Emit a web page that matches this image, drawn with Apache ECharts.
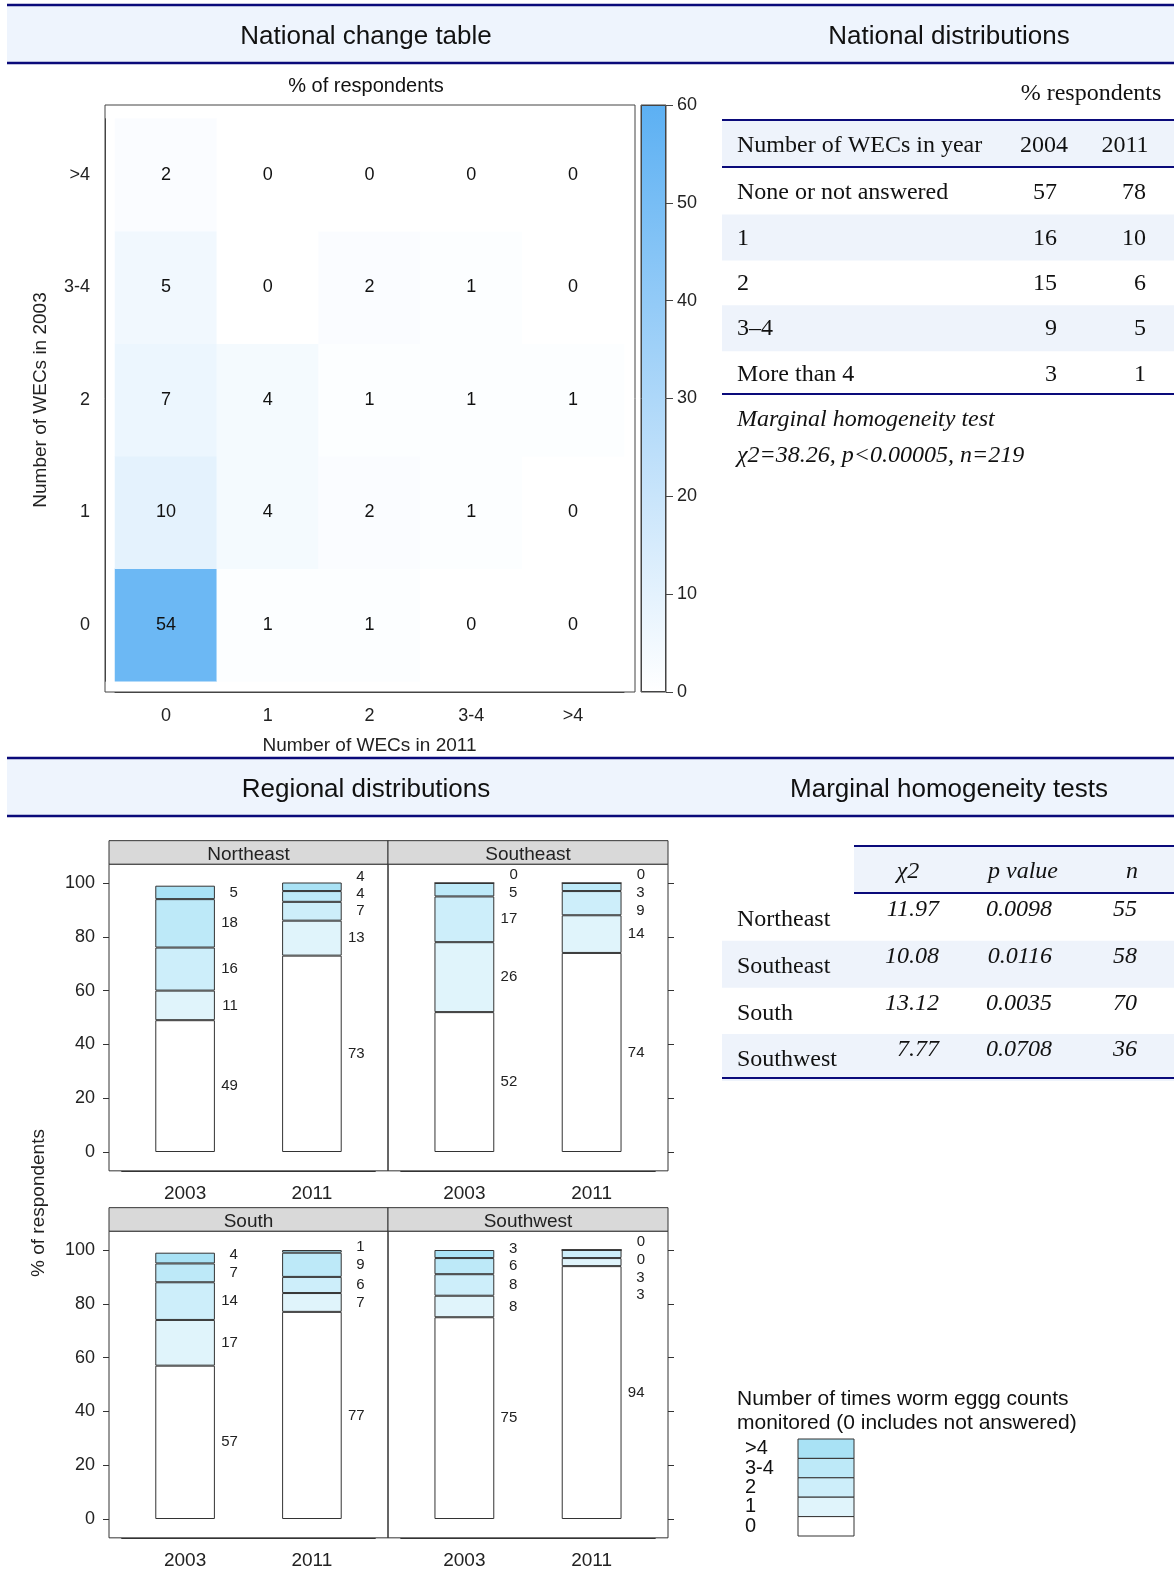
<!DOCTYPE html>
<html><head><meta charset="utf-8">
<script src="https://cdn.jsdelivr.net/npm/echarts@6/dist/echarts.min.js"></script>
<style>html,body{margin:0;padding:0;background:#fff}#c{width:1174px;height:1588px}</style>
</head><body><div id="c"></div>
<script>
// ================= DATA =================
const wecCats = ['0', '1', '2', '3-4', '>4'];
// national change table (% of respondents); rows = 2003 category, columns = 2011 category
const change2003is0   = [54, 1, 1, 0, 0];
const change2003is1   = [10, 4, 2, 1, 0];
const change2003is2   = [7, 4, 1, 1, 1];
const change2003is3_4 = [5, 0, 2, 1, 0];
const change2003isGt4 = [2, 0, 0, 0, 0];
const colorbarMax = 60;
const colorbarStep = 10;

const natCategories = ['None or not answered', '1', '2', '3–4', 'More than 4'];
const natYears = ['2004', '2011'];
const nat2004 = [57, 16, 15, 9, 3];
const nat2011 = [78, 10, 6, 5, 1];
const natTestLines = ['Marginal homogeneity test', 'χ2=38.26, p<0.00005, n=219'];

const regions = ['Northeast', 'Southeast', 'South', 'Southwest'];
const barYears = ['2003', '2011'];
// values per WEC category 0, 1, 2, 3-4, >4
const northeast2003 = [49, 11, 16, 18, 5];
const northeast2011 = [73, 13, 7, 4, 4];
const southeast2003 = [52, 26, 17, 5, 0];
const southeast2011 = [74, 14, 9, 3, 0];
const south2003 = [57, 17, 14, 7, 4];
const south2011 = [77, 7, 6, 9, 1];
const southwest2003 = [75, 8, 8, 6, 3];
const southwest2011 = [94, 3, 3, 0, 0];
const pctTicks = [0, 100, 20];

const testHeaders = ['χ2', 'p value', 'n'];
const testChi2 = ['11.97', '10.08', '13.12', '7.77'];
const testP = ['0.0098', '0.0116', '0.0035', '0.0708'];
const testN = ['55', '58', '70', '36'];

const legendTitle = ['Number of times worm eggg counts', 'monitored (0 includes not answered)'];

// ================= STYLE / LAYOUT =================
const SANS = '"Liberation Sans", Arial, sans-serif';
const SERIF = '"Liberation Serif", "Times New Roman", serif';
const NAVY = '#0a0a7a';
const HEAD_BG = '#eef4fd';
const ROW_BG = '#eef3fb';
const AX = '#444';
const catColors = ['#ffffff', '#e0f4fb', '#cdeefa', '#bde9f8', '#a9e2f5'];
const heatMaxColor = '#5cb0f3';

const grids = [], xAxes = [], yAxes = [], series = [], graphics = [];
function addGrid(g) { grids.push(g); return grids.length - 1; }
function hiddenAxes(gi) {
  xAxes.push({ gridIndex: gi, type: 'value', show: false, min: 0, max: 1 });
  yAxes.push({ gridIndex: gi, type: 'value', show: false, min: 0, max: 1 });
}

// ---------- heatmap ----------
const hmFrame = addGrid({ left: 105, top: 105, width: 530, height: 587, show: true, borderColor: AX, borderWidth: 1, backgroundColor: 'transparent' });
hiddenAxes(hmFrame);
const hmTop = 118.75, hmH = 562.5;
const hmGrid = addGrid({ left: 115, top: hmTop, width: 509, height: hmH });
const hmX = xAxes.length;
xAxes.push({
  gridIndex: hmGrid, type: 'category', data: wecCats, offset: 692 - (hmTop + hmH),
  axisLine: { show: true, onZero: false, lineStyle: { color: AX } },
  axisTick: { alignWithLabel: true, length: 7, lineStyle: { color: AX } },
  axisLabel: { fontSize: 18, fontFamily: SANS, color: '#222', margin: 15, interval: 0 },
  name: 'Number of WECs in 2011', nameLocation: 'middle', nameGap: 44,
  nameTextStyle: { fontSize: 19, fontFamily: SANS, color: '#222' }
});
const hmY = yAxes.length;
yAxes.push({
  gridIndex: hmGrid, type: 'category', data: wecCats, offset: 10,
  axisLine: { show: true, onZero: false, lineStyle: { color: AX } },
  axisTick: { alignWithLabel: true, length: 7, lineStyle: { color: AX } },
  axisLabel: { fontSize: 18, fontFamily: SANS, color: '#222', margin: 15, interval: 0 },
  name: 'Number of WECs in 2003', nameLocation: 'middle', nameGap: 55,
  nameTextStyle: { fontSize: 19, fontFamily: SANS, color: '#222' }
});
const changeRows = [change2003is0, change2003is1, change2003is2, change2003is3_4, change2003isGt4];
const hmData = [];
changeRows.forEach((row, r) => row.forEach((v, c) => hmData.push([c, r, v])));
const hmSeriesIndex = series.length;
series.push({
  type: 'heatmap', xAxisIndex: hmX, yAxisIndex: hmY, data: hmData,
  label: { show: true, fontSize: 18, fontFamily: SANS, color: '#111', formatter: p => p.value[2] },
  emphasis: { disabled: true }
});

// ---------- colorbar ----------
const cbGrid = addGrid({ left: 641, top: 105, width: 25, height: 587, show: true, borderColor: AX, borderWidth: 1, backgroundColor: 'transparent' });
const cbX = xAxes.length;
xAxes.push({ gridIndex: cbGrid, type: 'category', data: ['scale'], show: false });
const cbY = yAxes.length;
yAxes.push({
  gridIndex: cbGrid, type: 'value', position: 'right', min: 0, max: colorbarMax, interval: colorbarStep,
  axisLine: { show: false }, splitLine: { show: false },
  axisTick: { show: true, length: 7, lineStyle: { color: AX } },
  axisLabel: { fontSize: 18, fontFamily: SANS, color: '#222', margin: 11 }
});
series.push({
  type: 'bar', xAxisIndex: cbX, yAxisIndex: cbY, data: [colorbarMax], barWidth: '100%', silent: true,
  itemStyle: {
    color: new echarts.graphic.LinearGradient(0, 0, 0, 1, [{ offset: 0, color: heatMaxColor }, { offset: 1, color: '#ffffff' }]),
    borderColor: AX, borderWidth: 1
  }
});

// ---------- lattice of regional stacked bars ----------
const regionData = [[northeast2003, northeast2011], [southeast2003, southeast2011], [south2003, south2011], [southwest2003, southwest2011]];
const panelLeft = [109, 388], panelW = [279, 280];
const rowTop100 = [883, 1250];
const ppu = 2.69, dataH = 100 * ppu, pad = 7 * ppu, stripH = 23.5;
const LABEL_GAP = 6.6, LABEL_CAP = 103;
function labelShifts(vals) {
  const mids = []; let cum = 0;
  vals.forEach(v => { mids.push(cum + v / 2); cum += v; });
  const pos = mids.slice();
  for (let i = 1; i < pos.length; i++) pos[i] = Math.max(pos[i], pos[i - 1] + LABEL_GAP);
  const n = pos.length;
  if (pos[n - 1] > LABEL_CAP) {
    pos[n - 1] = LABEL_CAP;
    for (let i = n - 2; i >= 0; i--) pos[i] = Math.min(pos[i], pos[i + 1] - LABEL_GAP);
  }
  return pos.map((p, i) => p - mids[i]);
}
regions.forEach((name, r) => {
  const row = Math.floor(r / 2), col = r % 2;
  const L = panelLeft[col], W = panelW[col];
  const fTop = rowTop100[row] - pad, fH = dataH + 2 * pad;
  const fr = addGrid({ left: L, top: fTop, width: W, height: fH, show: true, borderColor: '#333', borderWidth: 1, backgroundColor: 'transparent' });
  hiddenAxes(fr);
  const st = addGrid({ left: L, top: fTop - stripH, width: W, height: stripH, show: true, borderColor: '#333', borderWidth: 1, backgroundColor: '#d9d9d9' });
  hiddenAxes(st);
  graphics.push({ type: 'text', x: L + W / 2, y: fTop - stripH / 2 + 2, style: { text: name, font: '19px ' + SANS, fill: '#222', align: 'center', verticalAlign: 'middle' } });
  const inset = 0.1 / 2.2 * W;
  const dg = addGrid({ left: L + inset, top: rowTop100[row], width: 2 / 2.2 * W, height: dataH });
  const xi = xAxes.length;
  xAxes.push({
    gridIndex: dg, type: 'category', data: barYears, offset: pad,
    axisLine: { show: true, onZero: false, lineStyle: { color: '#333' } },
    axisTick: { alignWithLabel: true, length: 6, lineStyle: { color: '#333' } },
    axisLabel: { fontSize: 19, fontFamily: SANS, color: '#222', margin: 13 }
  });
  const yi = yAxes.length;
  yAxes.push({
    gridIndex: dg, type: 'value', min: pctTicks[0], max: pctTicks[1], interval: pctTicks[2],
    position: col === 0 ? 'left' : 'right', offset: inset,
    axisLine: { show: false, onZero: false }, splitLine: { show: false },
    axisTick: { show: true, length: 6, lineStyle: { color: '#333' } },
    axisLabel: { show: col === 0, fontSize: 18, fontFamily: SANS, color: '#222', margin: 14 }
  });
  const [v03, v11] = regionData[r];
  const s03 = labelShifts(v03), s11 = labelShifts(v11);
  wecCats.forEach((cat, k) => {
    series.push({
      type: 'bar', name: cat, xAxisIndex: xi, yAxisIndex: yi, stack: 'reg' + r, barWidth: '47%',
      data: [
        { value: v03[k], label: { offset: [0, -s03[k] * ppu] } },
        { value: v11[k], label: { offset: [0, -s11[k] * ppu] } }
      ],
      itemStyle: { color: catColors[k], borderColor: '#333', borderWidth: 1 },
      label: { show: true, position: 'right', distance: 23, align: 'right', fontSize: 15, fontFamily: SANS, color: '#222', formatter: '{c}' },
      emphasis: { disabled: true }
    });
  });
});
graphics.push({ type: 'text', x: 39, y: 1203, rotation: Math.PI / 2, style: { text: '% of respondents', font: '19px ' + SANS, fill: '#222', align: 'center', verticalAlign: 'middle' } });

// ---------- section headers ----------
function header(y0, y1, leftTitle, rightTitle) {
  graphics.push({ type: 'rect', shape: { x: 7, y: y0, width: 1167, height: y1 - y0 }, style: { fill: HEAD_BG } });
  graphics.push({ type: 'line', shape: { x1: 7, y1: y0, x2: 1174, y2: y0 }, style: { stroke: NAVY, lineWidth: 2.5 } });
  graphics.push({ type: 'line', shape: { x1: 7, y1: y1, x2: 1174, y2: y1 }, style: { stroke: NAVY, lineWidth: 2.5 } });
  graphics.push({ type: 'text', x: 366, y: (y0 + y1) / 2 + 3, style: { text: leftTitle, font: '26px ' + SANS, fill: '#111', align: 'center', verticalAlign: 'middle' } });
  graphics.push({ type: 'text', x: 949, y: (y0 + y1) / 2 + 3, style: { text: rightTitle, font: '26px ' + SANS, fill: '#111', align: 'center', verticalAlign: 'middle' } });
}
header(5, 63, 'National change table', 'National distributions');
header(758, 816, 'Regional distributions', 'Marginal homogeneity tests');
graphics.push({ type: 'text', x: 366, y: 86, style: { text: '% of respondents', font: '20px ' + SANS, fill: '#111', align: 'center', verticalAlign: 'middle' } });

// ---------- national distributions table ----------
function txt(t, x, y, font, align) {
  graphics.push({ type: 'text', x: x, y: y, style: { text: t, font: font, fill: '#111', align: align || 'left', verticalAlign: 'middle' } });
}
function hline(x1, x2, y, w) {
  graphics.push({ type: 'line', shape: { x1: x1, y1: y, x2: x2, y2: y }, style: { stroke: NAVY, lineWidth: w || 2 } });
}
const F = '24px ' + SERIF, FI = 'italic 24px ' + SERIF;
txt('% respondents', 1091, 94, F, 'center');
graphics.push({ type: 'rect', shape: { x: 722, y: 120, width: 452, height: 47 }, style: { fill: ROW_BG } });
hline(722, 1174, 120);
txt('Number of WECs in year', 737, 146, F);
txt(natYears[0], 1044, 146, F, 'center');
txt(natYears[1], 1125, 146, F, 'center');
hline(722, 1174, 167);
natCategories.forEach((c, i) => {
  const y = 193 + i * 45.4;
  if (i % 2 === 1) graphics.push({ type: 'rect', z: -1, shape: { x: 722, y: y - 24, width: 452, height: 46 }, style: { fill: ROW_BG } });
  txt(c, 737, y, F);
  txt(String(nat2004[i]), 1057, y, F, 'right');
  txt(String(nat2011[i]), 1146, y, F, 'right');
});
hline(722, 1174, 394);
txt(natTestLines[0], 737, 420, FI);
txt(natTestLines[1], 737, 456, FI);

// ---------- marginal homogeneity tests table ----------
graphics.push({ type: 'rect', shape: { x: 854, y: 846, width: 320, height: 47 }, style: { fill: ROW_BG } });
hline(854, 1174, 846);
txt(testHeaders[0], 908, 872, FI, 'center');
txt(testHeaders[1], 1023, 872, FI, 'center');
txt(testHeaders[2], 1132, 872, FI, 'center');
hline(854, 1174, 893);
regions.forEach((reg, i) => {
  const y = 920 + i * 46.7;
  if (i % 2 === 1) graphics.push({ type: 'rect', z: -1, shape: { x: 722, y: y - 26, width: 452, height: 47 }, style: { fill: ROW_BG } });
  txt(reg, 737, y, F);
  txt(testChi2[i], 939, y - 10, FI, 'right');
  txt(testP[i], 1052, y - 10, FI, 'right');
  txt(testN[i], 1137, y - 10, FI, 'right');
});
hline(722, 1174, 1078);

// ---------- legend ----------
txt(legendTitle[0], 737, 1399, '21px ' + SANS);
txt(legendTitle[1], 737, 1423, '21px ' + SANS);
const legH = 19.4;
wecCats.slice().reverse().forEach((c, j) => {
  const k = wecCats.length - 1 - j;
  const y = 1439 + j * legH;
  graphics.push({ type: 'rect', shape: { x: 798, y: y, width: 56, height: legH }, style: { fill: catColors[k], stroke: '#333', lineWidth: 1 } });
  txt(c, 745, y + legH / 2, '20px ' + SANS);
});

// ================= CHART =================
const chart = echarts.init(document.getElementById('c'));
chart.setOption({
  animation: false,
  backgroundColor: '#ffffff',
  grid: grids,
  xAxis: xAxes,
  yAxis: yAxes,
  visualMap: [{ type: 'continuous', show: false, min: 0, max: colorbarMax, seriesIndex: hmSeriesIndex, inRange: { color: ['#ffffff', heatMaxColor] } }],
  series: series,
  graphic: { elements: graphics }
});
</script>
</body></html>
